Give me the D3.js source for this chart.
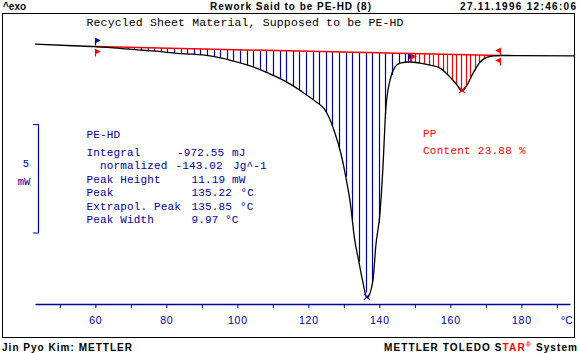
<!DOCTYPE html>
<html>
<head>
<meta charset="utf-8">
<script src="https://cdn.jsdelivr.net/npm/d3@7"></script>
<style>
  body { margin: 0; background: #fff; }
  svg { display: block; }
  .mono { font-family: "Liberation Mono", "DejaVu Sans Mono", monospace; }
  .bold { font-family: "Liberation Sans", Arial, sans-serif; font-weight: bold; font-size: 10px; }
</style>
</head>
<body>
<div id="chart"></div>
<script>
// Curva DSC (temperatura en °C, flujo de calor en mW)
const tempC = [43.0, 53.7, 59.9, 65.0, 68.4, 72.6, 76.0, 79.6, 83.0, 87.5, 92.3, 97.9, 103.6, 109.2,
  114.8, 119.1, 122.2, 124.7, 127.2, 129.2, 130.6, 132.0, 132.9, 134.3, 135.4, 136.5, 138.2, 139.0,
  140.2, 141.0, 141.8, 143.0, 144.4, 145.8, 148.6, 151.5, 154.3, 157.1, 159.9, 161.9, 163.3, 164.7,
  166.4, 168.4, 170.4, 172.1, 174.1, 195.1];
const heatFlow = [-0.01, -0.08, -0.12, -0.18, -0.22, -0.28, -0.32, -0.37, -0.43, -0.47, -0.55, -0.74, -1.01, -1.38,
  -1.84, -2.30, -2.67, -3.04, -3.96, -5.07, -6.17, -7.56, -8.85, -10.09, -11.01, -11.70, -10.88, -9.31,
  -7.74, -5.71, -3.04, -1.66, -1.06, -0.88, -0.83, -0.88, -0.97, -1.11, -1.52, -1.89, -2.17, -1.89,
  -1.34, -0.83, -0.60, -0.55, -0.53, -0.55];

// Línea base de integración y límites
const baseT = [59.9, 174.1];
const baseMW = [-0.12, -0.53];
const splitT = 148.1;          // límite PE-HD / PP
const peakPE = [136.5, -11.70];
const peakPP = [163.3, -2.17];

// Textos
const tickValues = d3.range(50, 191, 10);
const tickLabels = [60, 80, 100, 120, 140, 160, 180];
const statLabels = ["Integral", "  normalized", "Peak Height", "Peak", "Extrapol. Peak", "Peak Width"];
const statValues = ["-972.55", "-143.02", "11.19", "135.22", "135.85", "9.97"];
const statUnits = ["mJ", "Jg^-1", "mW", "°C", "°C", "°C"];

const width = 579, height = 353;
const blue = "#0000a0", red = "#ff0000";

const svg = d3.select("#chart").append("svg")
  .attr("width", width)
  .attr("height", height);

// Escalas
const x = d3.scaleLinear().domain([43, 193.7]).range([35, 570]);
const y = d3.scaleLinear().domain([0, -5]).range([44, 152.5]);

const data = tempC.map((t, i) => ({ t: t, v: heatFlow[i] }));

// interpolación lineal del flujo
function flowAt(t) {
  const i = d3.bisector(d => d.t).right(data, t);
  const a = data[Math.max(0, i - 1)], b = data[Math.min(data.length - 1, i)];
  if (a === b) return a.v;
  return a.v + (b.v - a.v) * (t - a.t) / (b.t - a.t);
}
const baseScale = d3.scaleLinear().domain(baseT).range(baseMW);

// Marco
svg.append("rect")
  .attr("x", 2.5).attr("y", 13.5)
  .attr("width", 572).attr("height", 324)
  .attr("fill", "none").attr("stroke", "#000");

// Cabecera y pie
svg.append("text").attr("class", "bold").attr("x", 3).attr("y", 10).text("^exo");
svg.append("text").attr("class", "bold").attr("x", 210).attr("y", 10)
  .attr("textLength", 161).attr("lengthAdjust", "spacing").text("Rework Said to be PE-HD (8)");
svg.append("text").attr("class", "bold").attr("x", 460).attr("y", 10)
  .attr("textLength", 116).attr("lengthAdjust", "spacing").text("27.11.1996 12:46:06");
svg.append("text").attr("class", "bold").attr("x", 2).attr("y", 351)
  .attr("textLength", 130).attr("lengthAdjust", "spacing").text("Jin Pyo Kim: METTLER");
const brand = svg.append("text").attr("class", "bold").attr("x", 384).attr("y", 351)
  .attr("textLength", 193).attr("lengthAdjust", "spacing");
brand.append("tspan").text("METTLER TOLEDO S");
brand.append("tspan").attr("fill", red).text("TAR");
brand.append("tspan").attr("fill", red).attr("font-size", "7px").attr("dy", -4).text("®");
brand.append("tspan").attr("dy", 4).text(" System");

// Subtítulo
svg.append("text").attr("class", "mono")
  .attr("x", 86.5).attr("y", 26)
  .attr("font-size", "11.5px")
  .attr("textLength", 317).attr("lengthAdjust", "spacing")
  .style("white-space", "pre")
  .text("Recycled Sheet Material, Supposed to be PE-HD");

// Eje X
const xAxis = d3.axisBottom(x)
  .tickValues(tickValues)
  .tickSize(4)
  .tickSizeOuter(0)
  .tickPadding(9)
  .tickFormat(d => tickLabels.includes(d) ? d : "");

const gx = svg.append("g")
  .attr("transform", "translate(0,304)")
  .call(xAxis);
gx.select(".domain").attr("stroke", blue).attr("stroke-width", 1.3);
gx.selectAll(".tick line").attr("stroke", blue);
gx.selectAll(".tick text")
  .attr("fill", blue)
  .style("font-family", "Liberation Sans, Arial, sans-serif")
  .style("font-size", "10.5px")
  .style("letter-spacing", "0.8px");
svg.append("text")
  .attr("x", 567).attr("y", 324)
  .attr("text-anchor", "middle")
  .attr("fill", blue)
  .style("font-family", "Liberation Sans, Arial, sans-serif")
  .style("font-size", "10.5px")
  .text("°C");

// Escala de 5 mW
const bracketTop = 124;
const bracketLen = y(-5) - y(0);
svg.append("path")
  .attr("d", `M33,${bracketTop + 0.5}H38.5V${bracketTop + bracketLen + 0.5}H33`)
  .attr("fill", "none").attr("stroke", blue).attr("stroke-width", 1.2);
svg.append("text").attr("class", "mono").attr("x", 26).attr("y", 167)
  .attr("text-anchor", "middle").attr("fill", blue).attr("font-size", "10.5px").text("5");
svg.append("text").attr("class", "mono").attr("x", 24).attr("y", 184.5)
  .attr("text-anchor", "middle").attr("fill", blue).attr("font-size", "10.5px").text("mW");

// Sombreado (líneas verticales entre línea base y curva)
const hatchBlue = d3.range(baseT[0] + 1.8, splitT, 1.86);
const hatchRed = d3.range(splitT + 0.6, baseT[1], 1.3);

function drawHatch(vals, color) {
  svg.append("g").selectAll("line")
    .data(vals.filter(t => y(flowAt(t)) - y(baseScale(t)) > 1.5))
    .enter().append("line")
    .attr("x1", t => Math.round(x(t)) + 0.5)
    .attr("x2", t => Math.round(x(t)) + 0.5)
    .attr("y1", t => y(baseScale(t)))
    .attr("y2", t => y(flowAt(t)))
    .attr("stroke", color)
    .attr("stroke-width", 1.2);
}
drawHatch(hatchBlue, blue);
drawHatch(hatchRed, red);

// Línea base
svg.append("line")
  .attr("x1", x(baseT[0])).attr("x2", x(baseT[1]))
  .attr("y1", y(baseMW[0])).attr("y2", y(baseMW[1]))
  .attr("stroke", red).attr("stroke-width", 1.5);

// Curva DSC
const line = d3.line()
  .x(d => x(d.t))
  .y(d => y(d.v))
  .curve(d3.curveMonotoneX);

svg.append("path")
  .datum(data)
  .attr("d", line)
  .attr("fill", "none")
  .attr("stroke", "#000")
  .attr("stroke-width", 1.3);

// Marcas de límites
function flag(px, py, dir, color) {
  svg.append("path")
    .attr("d", `M${px},${py}V${py + 7}M${px},${py}L${px + 4 * dir},${py + 2}L${px},${py + 4}Z`)
    .attr("fill", color).attr("stroke", color).attr("stroke-width", 1.2);
}
const xl = Math.round(x(baseT[0])) + 0.5;
const yl = y(baseMW[0]);
flag(xl, yl - 8, 1, blue);
flag(xl, yl + 3, 1, red);

const xs = Math.round(x(splitT)) + 0.5;
const ys = y(baseScale(splitT));
flag(xs, ys + 1, 1, blue);
flag(xs + 3, ys + 1, 1, red);

const xr = Math.round(x(baseT[1])) + 0.5;
const yr = y(baseMW[1]);
flag(xr, yr - 7, -1, red);
flag(xr, yr + 3, -1, red);

// Marcas de pico
function cross(p, color) {
  const cx = x(p[0]), cy = y(p[1]) - 1;
  svg.append("path")
    .attr("d", `M${cx - 3},${cy - 3}L${cx + 3},${cy + 3}M${cx - 3},${cy + 3}L${cx + 3},${cy - 3}`)
    .attr("stroke", color).attr("stroke-width", 1.2);
}
cross(peakPE, blue);
cross(peakPP, red);

// Resultados PE-HD
const stats = svg.append("g").attr("class", "mono")
  .attr("fill", blue).attr("font-size", "11px")
  .style("letter-spacing", "0.15px");
stats.append("text").attr("x", 86.5).attr("y", 137.5).text("PE-HD");
const rowY = [155.5, 168.5, 182.5, 196, 209.5, 223];
const valX = [177, 175.5, 191.5, 191.5, 191.5, 191.5];
const unitX = [232, 233, 232, 240.5, 240, 225];
statLabels.forEach((s, i) => {
  stats.append("text").attr("x", 86.5).attr("y", rowY[i]).style("white-space", "pre").text(s);
  stats.append("text").attr("x", valX[i]).attr("y", rowY[i]).text(statValues[i]);
  stats.append("text").attr("x", unitX[i]).attr("y", rowY[i]).text(statUnits[i]);
});

// Resultados PP
const pp = svg.append("g").attr("class", "mono")
  .attr("fill", red).attr("font-size", "11px")
  .style("letter-spacing", "0.25px");
pp.append("text").attr("x", 423).attr("y", 137.2).text("PP");
pp.append("text").attr("x", 423).attr("y", 154).style("white-space", "pre").text("Content 23.88 %");
</script>
</body>
</html>
